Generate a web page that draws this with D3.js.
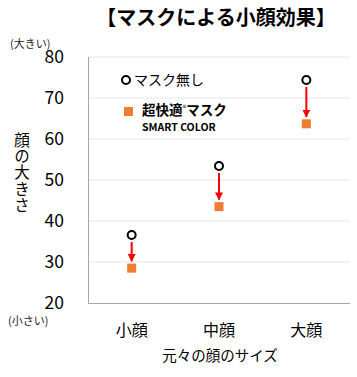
<!DOCTYPE html>
<html><head><meta charset="utf-8">
<script src="https://cdn.jsdelivr.net/npm/d3@7"></script>
<style>
body{margin:0;background:#fff;}
text{font-family:"Noto Sans CJK JP","Noto Sans",sans-serif;}
</style></head>
<body><svg id="c" width="357" height="377"></svg>
<script>
const categories = ["小顔", "中顔", "大顔"];
const noMask = [36.6, 53.4, 74.4];
const withMask = [28.5, 43.5, 63.7];
const yTicks = [20, 30, 40, 50, 60, 70, 80];
const legendLabels = ["マスク無し", "超快適", "マスク", "SMART COLOR"];

const svg = d3.select("#c");
const x = d3.scaleBand().domain(categories).range([88, 350]);
const y = d3.scaleLinear().domain([20, 80]).range([303, 57]);

// gridlines
svg.append("g").selectAll("line").data(yTicks.slice(1)).join("line")
  .attr("x1", 88).attr("x2", 350)
  .attr("y1", d => y(d)).attr("y2", d => y(d))
  .attr("stroke", "#e6e6e6").attr("stroke-width", 1);

// axes lines
svg.append("line").attr("x1", 88.5).attr("x2", 88.5).attr("y1", y(80)).attr("y2", y(20) + 0.5)
  .attr("stroke", "#a6a6a6").attr("stroke-width", 1);
svg.append("line").attr("x1", 88).attr("x2", 350).attr("y1", y(20) + 0.5).attr("y2", y(20) + 0.5)
  .attr("stroke", "#a6a6a6").attr("stroke-width", 1);

// y tick labels
svg.append("g").selectAll("text").data(yTicks).join("text")
  .attr("x", 64).attr("y", d => y(d)).attr("dy", "0.36em")
  .attr("text-anchor", "end").attr("font-size", 17.5).attr("fill", "#000")
  .text(d => d);

// x labels
svg.append("g").selectAll("text").data(categories).join("text")
  .attr("x", d => x(d) + x.bandwidth() / 2).attr("y", 330).attr("dy", "0.36em")
  .attr("text-anchor", "middle").attr("font-size", 16).text(d => d);

svg.append("text").attr("x", 220).attr("y", 356).attr("dy", "0.36em")
  .attr("text-anchor", "middle").attr("font-size", 14.5).text("元々の顔のサイズ");

// y title vertical
svg.append("text").attr("x", 22).attr("y", 132)
  .style("writing-mode", "vertical-rl").attr("letter-spacing", 0.8)
  .attr("font-size", 15.5).text("顔の大きさ");

svg.append("text").attr("x", 10).attr("y", 44).attr("dy", "0.36em")
  .attr("font-size", 11).attr("fill", "#222").text("(大きい)");
svg.append("text").attr("x", 8).attr("y", 321).attr("dy", "0.36em")
  .attr("font-size", 11).attr("fill", "#222").text("(小さい)");

// title
svg.append("text").attr("x", 216).attr("y", 18).attr("dy", "0.36em")
  .attr("text-anchor", "middle").attr("font-size", 20).attr("font-weight", "bold")
  .text("【マスクによる小顔効果】");

// arrow marker
svg.append("defs").append("marker").attr("id", "ah")
  .attr("viewBox", "0 0 10 10").attr("refX", 9).attr("refY", 5)
  .attr("markerWidth", 4).attr("markerHeight", 4).attr("markerUnits", "strokeWidth")
  .attr("orient", "auto")
  .append("path").attr("d", "M0,0L10,5L0,10Z").attr("fill", "#ff0000");

const cx = i => x(categories[i]) + x.bandwidth() / 2;

// arrows
svg.append("g").selectAll("line").data(noMask).join("line")
  .attr("x1", (d, i) => cx(i)).attr("x2", (d, i) => cx(i))
  .attr("y1", d => y(d) + 7).attr("y2", (d, i) => y(withMask[i]) - 7)
  .attr("stroke", "#ff0000").attr("stroke-width", 2)
  .attr("marker-end", "url(#ah)");

// squares
svg.append("g").selectAll("rect").data(withMask).join("rect")
  .attr("x", (d, i) => cx(i) - 4.5).attr("y", d => y(d) - 4.5)
  .attr("width", 9).attr("height", 9).attr("fill", "#ED7D31");

// circles
svg.append("g").selectAll("circle").data(noMask).join("circle")
  .attr("cx", (d, i) => cx(i)).attr("cy", d => y(d)).attr("r", 4)
  .attr("fill", "#fff").attr("stroke", "#000").attr("stroke-width", 2);

// legend
svg.append("circle").attr("cx", 126).attr("cy", 80).attr("r", 4)
  .attr("fill", "#fff").attr("stroke", "#000").attr("stroke-width", 2);
svg.append("text").attr("x", 134).attr("y", 80).attr("dy", "0.36em")
  .attr("font-size", 14).text(legendLabels[0]);
svg.append("rect").attr("x", 124).attr("y", 107).attr("width", 9).attr("height", 9).attr("fill", "#ED7D31");
const lt = svg.append("text").attr("x", 142).attr("y", 110).attr("dy", "0.36em")
  .attr("font-size", 13.5).attr("font-weight", "bold");
lt.append("tspan").text(legendLabels[1]);
lt.append("tspan").attr("font-size", 8).attr("font-weight", "normal").attr("dy", "-0.5em").text("®");
lt.append("tspan").attr("dy", "0.3em").text(legendLabels[2]);
svg.append("text").attr("x", 142).attr("y", 127).attr("dy", "0.36em")
  .attr("font-size", 10.5).attr("font-weight", "bold").text(legendLabels[3]);
</script></body></html>
